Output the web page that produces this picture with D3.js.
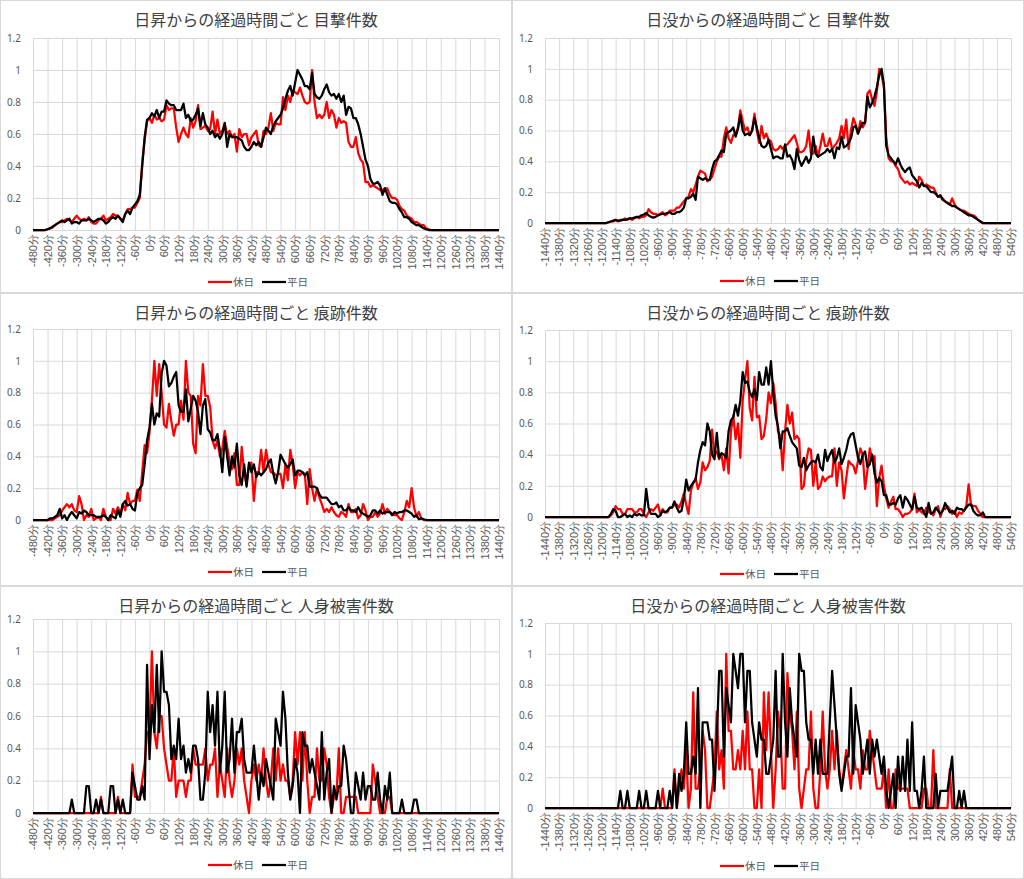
<!DOCTYPE html>
<html>
<head>
<meta charset="utf-8">
<script src="https://cdn.jsdelivr.net/npm/d3@7"></script>
<style>
  body { margin: 0; background: #fff; }
  svg { display: block; font-family: "Noto Sans CJK JP", "Noto Sans", sans-serif; }
</style>
</head>
<body>
<script>
// categories: minutes from sunrise / sunset, one point every 10 minutes
var sunriseMinutes = d3.range(-480, 1441, 10);
var sunsetMinutes = d3.range(-1440, 541, 10);
var sunriseTicks = d3.range(-480, 1441, 60);
var sunsetTicks = d3.range(-1440, 541, 60);
var yTicks = [0, 0.2, 0.4, 0.6, 0.8, 1, 1.2];
var seriesNames = ["休日", "平日"];

// 日昇 目撃件数 (one row = one hour)
var sunriseSightHoliday = [
  0,0,0,0,0,0,
  0.005,0.01,0.015,0.03,0.04,0.05,
  0.05,0.06,0.07,0.06,0.05,0.07,
  0.09,0.07,0.06,0.07,0.06,0.08,
  0.05,0.04,0.04,0.06,0.07,0.09,
  0.06,0.07,0.08,0.1,0.09,0.09,
  0.07,0.06,0.1,0.13,0.13,0.14,
  0.14,0.17,0.2,0.42,0.56,0.68,
  0.7,0.67,0.72,0.69,0.7,0.68,
  0.69,0.78,0.75,0.76,0.76,0.64,
  0.55,0.6,0.64,0.6,0.58,0.7,
  0.64,0.68,0.78,0.63,0.64,0.65,
  0.62,0.63,0.74,0.6,0.69,0.6,
  0.62,0.66,0.6,0.62,0.58,0.6,
  0.49,0.63,0.58,0.6,0.6,0.53,
  0.58,0.6,0.62,0.53,0.52,0.62,
  0.6,0.64,0.73,0.62,0.67,0.66,
  0.66,0.83,0.75,0.84,0.8,0.87,
  0.86,0.85,0.89,0.84,0.8,0.79,
  0.8,1.0,0.8,0.7,0.72,0.7,
  0.72,0.8,0.7,0.75,0.72,0.64,
  0.7,0.67,0.68,0.67,0.55,0.52,
  0.52,0.58,0.48,0.44,0.42,0.3,
  0.3,0.27,0.28,0.27,0.26,0.25,
  0.25,0.26,0.26,0.22,0.2,0.2,
  0.19,0.15,0.13,0.12,0.09,0.08,
  0.07,0.05,0.05,0.04,0.03,0.03,
  0.01,0.005,0,0,0,0,
  0,0,0,0,0,0,
  0,0,0,0,0,0,
  0,0,0,0,0,0,
  0,0,0,0,0,0,
  0
];
var sunriseSightWeekday = [
  0,0,0,0,0,0,
  0.005,0.01,0.02,0.03,0.04,0.05,
  0.06,0.05,0.06,0.07,0.04,0.05,
  0.05,0.04,0.06,0.06,0.06,0.07,
  0.06,0.05,0.06,0.07,0.07,0.06,
  0.04,0.05,0.07,0.08,0.07,0.09,
  0.07,0.05,0.1,0.12,0.1,0.14,
  0.16,0.18,0.22,0.4,0.58,0.69,
  0.7,0.73,0.71,0.75,0.7,0.74,
  0.74,0.81,0.79,0.78,0.78,0.75,
  0.75,0.75,0.79,0.7,0.72,0.68,
  0.69,0.72,0.76,0.65,0.73,0.66,
  0.64,0.6,0.62,0.58,0.6,0.57,
  0.6,0.67,0.52,0.6,0.58,0.58,
  0.58,0.57,0.56,0.52,0.5,0.5,
  0.52,0.55,0.53,0.55,0.52,0.58,
  0.64,0.62,0.6,0.65,0.68,0.7,
  0.72,0.76,0.82,0.87,0.9,0.84,
  0.92,1.0,0.97,0.94,0.9,0.9,
  0.88,0.98,0.85,0.83,0.82,0.84,
  0.88,0.91,0.86,0.84,0.85,0.82,
  0.85,0.8,0.84,0.72,0.77,0.76,
  0.7,0.7,0.66,0.6,0.52,0.44,
  0.4,0.32,0.29,0.29,0.3,0.28,
  0.22,0.26,0.22,0.18,0.17,0.17,
  0.16,0.13,0.11,0.08,0.08,0.07,
  0.05,0.04,0.03,0.03,0.02,0.01,
  0.005,0,0,0,0,0,
  0,0,0,0,0,0,
  0,0,0,0,0,0,
  0,0,0,0,0,0,
  0,0,0,0,0,0,
  0
];

// 日没 目撃件数
var sunsetSightHoliday = [
  0,0,0,0,0,0,
  0,0,0,0,0,0,
  0,0,0,0,0,0,
  0,0,0,0,0,0,
  0,0,0,0.005,0.01,0.01,
  0.02,0.01,0.02,0.02,0.03,0.02,
  0.03,0.02,0.03,0.04,0.03,0.04,
  0.04,0.05,0.09,0.07,0.06,0.06,
  0.05,0.06,0.07,0.05,0.06,0.08,
  0.08,0.08,0.1,0.1,0.12,0.14,
  0.16,0.17,0.22,0.2,0.25,0.3,
  0.34,0.33,0.32,0.27,0.28,0.3,
  0.35,0.4,0.43,0.43,0.55,0.62,
  0.55,0.52,0.57,0.58,0.62,0.73,
  0.66,0.6,0.62,0.57,0.6,0.71,
  0.6,0.52,0.63,0.55,0.58,0.54,
  0.53,0.48,0.47,0.48,0.5,0.48,
  0.5,0.51,0.53,0.55,0.57,0.52,
  0.46,0.46,0.47,0.5,0.6,0.45,
  0.45,0.5,0.43,0.5,0.58,0.5,
  0.5,0.55,0.48,0.5,0.52,0.55,
  0.63,0.55,0.67,0.48,0.6,0.68,
  0.64,0.58,0.66,0.62,0.65,0.84,
  0.86,0.8,0.76,0.85,1.0,0.96,
  0.88,0.55,0.42,0.4,0.4,0.37,
  0.35,0.3,0.28,0.26,0.27,0.25,
  0.26,0.25,0.24,0.3,0.28,0.24,
  0.25,0.24,0.23,0.23,0.2,0.17,
  0.17,0.16,0.14,0.13,0.12,0.16,
  0.12,0.1,0.09,0.08,0.08,0.07,
  0.06,0.05,0.05,0.04,0.02,0.01,
  0,0,0,0,0,0,
  0,0,0,0,0,0,
  0
];
var sunsetSightWeekday = [
  0,0,0,0,0,0,
  0,0,0,0,0,0,
  0,0,0,0,0,0,
  0,0,0,0,0,0,
  0,0,0,0.005,0.01,0.015,
  0.02,0.015,0.015,0.02,0.02,0.025,
  0.03,0.03,0.035,0.04,0.04,0.05,
  0.055,0.065,0.05,0.04,0.035,0.04,
  0.05,0.055,0.06,0.06,0.065,0.07,
  0.06,0.06,0.07,0.07,0.08,0.1,
  0.16,0.16,0.17,0.19,0.15,0.3,
  0.29,0.28,0.29,0.28,0.28,0.35,
  0.4,0.41,0.44,0.47,0.46,0.58,
  0.59,0.6,0.62,0.56,0.61,0.7,
  0.6,0.57,0.58,0.57,0.6,0.68,
  0.62,0.55,0.5,0.49,0.5,0.54,
  0.48,0.42,0.43,0.43,0.42,0.42,
  0.51,0.43,0.44,0.41,0.35,0.48,
  0.41,0.37,0.4,0.43,0.39,0.42,
  0.56,0.45,0.43,0.44,0.45,0.46,
  0.48,0.46,0.48,0.42,0.49,0.48,
  0.56,0.49,0.5,0.52,0.55,0.62,
  0.63,0.58,0.62,0.65,0.65,0.82,
  0.75,0.78,0.82,0.88,0.96,1.0,
  0.9,0.5,0.44,0.42,0.4,0.38,
  0.42,0.38,0.35,0.33,0.35,0.36,
  0.31,0.29,0.27,0.23,0.26,0.24,
  0.24,0.22,0.2,0.2,0.19,0.17,
  0.18,0.15,0.14,0.13,0.12,0.11,
  0.11,0.1,0.09,0.08,0.07,0.06,
  0.05,0.05,0.04,0.03,0.02,0.01,
  0,0,0,0,0,0,
  0,0,0,0,0,0,
  0
];

// 日昇 痕跡件数
var sunriseTraceHoliday = [
  0,0,0,0,0,0,
  0,0,0,0.01,0.02,0.03,
  0.06,0.08,0.1,0.08,0.1,0.06,
  0.05,0.15,0.1,0,0.03,0.02,
  0.07,0,0.01,0.02,0,0.07,
  0.02,0,0,0.07,0.04,0.08,
  0.04,0.1,0.06,0.17,0.1,0.12,
  0.12,0.19,0.12,0.3,0.47,0.42,
  0.55,0.75,1.0,0.78,0.98,0.8,
  0.6,0.58,0.73,0.62,0.53,0.6,
  0.6,0.75,0.63,1.0,0.8,0.78,
  0.48,0.42,0.78,0.72,0.98,0.78,
  0.78,0.71,0.5,0.45,0.5,0.4,
  0.45,0.56,0.46,0.37,0.32,0.42,
  0.22,0.22,0.46,0.3,0.22,0.35,
  0.36,0.12,0.3,0.3,0.44,0.3,
  0.44,0.35,0.3,0.3,0.28,0.29,
  0.29,0.2,0.35,0.25,0.44,0.35,
  0.2,0.3,0.28,0.3,0.29,0.1,
  0.32,0.2,0.12,0.2,0.14,0.1,
  0.05,0.07,0.05,0.08,0.05,0.03,
  0.02,0.05,0.04,0.02,0.1,0.05,
  0.05,0.07,0.01,0.03,0.1,0.06,
  0,0.02,0.02,0.05,0.02,0.04,
  0.1,0.04,0.07,0.05,0.04,0.03,
  0.03,0.01,0,0.05,0.12,0.08,
  0.2,0.08,0.02,0.05,0.01,0,
  0,0,0,0,0,0,
  0,0,0,0,0,0,
  0,0,0,0,0,0,
  0,0,0,0,0,0,
  0,0,0,0,0,0,
  0
];
var sunriseTraceWeekday = [
  0,0,0,0,0,0,
  0,0.01,0.01,0.02,0.03,0.07,
  0.01,0.03,0,0.03,0.05,0.03,
  0.01,0.05,0.04,0.06,0.05,0.03,
  0.03,0.03,0.02,0.02,0.02,0.03,
  0.02,0,0.03,0.02,0.01,0.06,
  0.02,0.1,0.12,0.09,0.1,0.07,
  0.06,0.17,0.2,0.22,0.35,0.5,
  0.58,0.73,0.6,0.67,0.65,0.92,
  1.0,0.97,0.84,0.86,0.9,0.93,
  0.72,0.68,0.68,0.82,0.62,0.7,
  0.78,0.75,0.68,0.54,0.72,0.76,
  0.57,0.55,0.5,0.5,0.54,0.44,
  0.3,0.52,0.4,0.28,0.4,0.33,
  0.48,0.28,0.22,0.35,0.21,0.36,
  0.3,0.35,0.27,0.3,0.28,0.3,
  0.32,0.36,0.38,0.29,0.23,0.3,
  0.41,0.38,0.35,0.33,0.35,0.38,
  0.28,0.31,0.31,0.3,0.28,0.3,
  0.21,0.21,0.21,0.2,0.16,0.14,
  0.14,0.14,0.12,0.1,0.1,0.11,
  0.08,0.09,0.06,0.06,0.08,0.06,
  0.06,0.05,0.08,0.05,0.04,0.03,
  0.02,0.03,0.06,0.06,0.04,0.06,
  0.04,0.05,0.05,0.05,0.03,0.05,
  0.04,0.05,0.05,0.06,0.06,0.05,
  0.04,0.02,0.03,0.005,0.01,0.005,
  0,0,0,0,0,0,
  0,0,0,0,0,0,
  0,0,0,0,0,0,
  0,0,0,0,0,0,
  0,0,0,0,0,0,
  0
];

// 日没 痕跡件数
var sunsetTraceHoliday = [
  0,0,0,0,0,0,
  0,0,0,0,0,0,
  0,0,0,0,0,0,
  0,0,0,0,0,0,
  0,0,0,0,0.01,0.03,
  0.07,0.05,0.05,0.02,0.02,0.05,
  0.05,0.05,0.03,0.03,0.05,0.05,
  0.02,0,0.03,0.05,0.04,0.06,
  0.08,0.02,0.05,0.03,0.03,0.06,
  0.06,0.08,0.08,0.06,0.1,0.15,
  0.08,0.02,0.17,0.22,0.25,0.18,
  0.22,0.35,0.3,0.32,0.36,0.56,
  0.4,0.42,0.37,0.4,0.3,0.44,
  0.28,0.55,0.65,0.5,0.6,0.38,
  0.75,0.88,1.0,0.7,0.62,0.9,
  0.64,0.65,0.5,0.52,0.63,0.8,
  0.73,0.86,0.73,0.55,0.52,0.3,
  0.55,0.72,0.6,0.67,0.5,0.52,
  0.5,0.18,0.2,0.36,0.44,0.43,
  0.2,0.35,0.18,0.2,0.26,0.23,
  0.25,0.26,0.26,0.44,0.2,0.35,
  0.3,0.12,0.25,0.36,0.34,0.33,
  0.28,0.36,0.44,0.4,0.18,0.3,
  0.44,0.37,0.39,0.07,0.25,0.33,
  0.2,0.12,0.06,0.1,0.13,0.05,
  0.05,0.03,0,0.02,0.02,0.03,
  0.05,0.15,0.03,0.05,0.03,0.02,
  0.06,0.03,0.03,0.01,0.05,0.07,
  0,0.05,0.05,0.07,0.05,0.02,
  0.04,0,0.03,0.02,0.04,0.07,
  0.21,0.08,0.07,0.07,0.04,0.02,
  0,0,0,0,0,0,
  0,0,0,0,0,0,
  0
];
var sunsetTraceWeekday = [
  0,0,0,0,0,0,
  0,0,0,0,0,0,
  0,0,0,0,0,0,
  0,0,0,0,0,0,
  0,0,0,0,0.02,0.05,
  0.04,0,0,0.01,0.02,0,
  0.01,0,0.02,0.01,0.02,0.01,
  0.01,0.18,0.06,0.02,0.02,0.02,
  0,0.01,0.04,0.03,0.04,0.06,
  0.06,0.1,0.06,0.03,0.04,0.12,
  0.24,0.17,0.2,0.22,0.24,0.35,
  0.43,0.48,0.46,0.6,0.55,0.4,
  0.37,0.54,0.38,0.41,0.4,0.38,
  0.55,0.62,0.64,0.72,0.65,0.75,
  0.93,0.86,0.87,0.8,0.77,0.82,
  0.75,0.93,0.85,0.85,0.96,0.85,
  1.0,0.8,0.65,0.58,0.44,0.55,
  0.55,0.57,0.52,0.48,0.46,0.44,
  0.33,0.32,0.38,0.3,0.33,0.35,
  0.36,0.35,0.4,0.32,0.3,0.43,
  0.36,0.4,0.43,0.35,0.38,0.44,
  0.34,0.38,0.43,0.5,0.53,0.54,
  0.46,0.38,0.34,0.4,0.42,0.32,
  0.34,0.4,0.28,0.22,0.25,0.23,
  0.14,0.14,0.08,0.08,0.09,0.08,
  0.12,0.14,0.06,0.13,0.11,0.08,
  0.05,0.13,0.06,0.05,0.06,0.03,
  0,0.09,0.02,0.03,0.06,0.04,
  0.02,0.04,0.09,0.06,0.03,0.04,
  0.02,0.06,0.05,0.05,0.04,0.06,
  0.08,0.08,0.04,0.02,0.01,0.01,
  0.03,0,0,0,0,0,
  0,0,0,0,0,0,
  0
];

// 日昇 人身被害件数
var sunriseInjuryHoliday = [
  0,0,0,0,0,0,
  0,0,0,0,0,0,
  0,0,0,0,0,0,
  0,0,0,0,0,0,
  0,0,0,0,0.1,0,
  0,0,0,0,0,0.1,
  0,0,0,0,0,0.3,
  0.1,0.1,0.1,0.2,0.3,0.5,
  0.5,1.0,0.5,0.4,0.6,0.6,
  0.4,0.3,0.2,0.2,0.4,0.1,
  0.2,0.2,0.2,0.1,0.2,0.2,
  0.4,0.3,0.3,0.3,0.3,0.4,
  0.2,0.3,0.3,0.4,0.1,0.3,
  0.2,0.1,0.4,0.2,0.1,0.2,
  0.4,0.3,0.4,0.2,0.1,0,
  0.2,0.3,0.2,0.3,0.2,0.4,
  0.2,0.1,0.2,0.4,0.2,0.4,
  0.2,0.3,0.2,0.2,0.1,0.2,
  0.5,0.3,0.5,0.2,0.5,0.2,
  0,0.1,0.1,0.4,0.2,0.2,
  0.4,0.3,0.1,0,0.1,0.1,
  0.4,0,0,0.1,0.1,0.1,
  0.1,0.1,0,0,0,0,
  0,0,0.3,0.2,0.1,0,
  0,0,0.1,0.1,0,0,
  0,0,0,0,0,0,
  0,0,0,0,0,0,
  0,0,0,0,0,0,
  0,0,0,0,0,0,
  0,0,0,0,0,0,
  0,0,0,0,0,0,
  0,0,0,0,0,0,
  0
];
var sunriseInjuryWeekday = [
  0,0,0,0,0,0,
  0,0,0,0,0,0,
  0,0,0,0,0.083,0,
  0,0,0,0,0.167,0.167,
  0,0,0.083,0,0.083,0,
  0,0,0.167,0.167,0,0.083,
  0,0.083,0,0,0,0.25,
  0.167,0.083,0.083,0.167,0.083,0.917,
  0.333,0.667,0.5,0.917,0.5,1.0,
  0.75,0.75,0.667,0.333,0.417,0.333,
  0.583,0.333,0.417,0.25,0.333,0.25,
  0.417,0.417,0.333,0.083,0.083,0.25,
  0.75,0.5,0.667,0.417,0.75,0.25,
  0.417,0.75,0.25,0.333,0.583,0.25,
  0.5,0.5,0.583,0.333,0.25,0.25,
  0.25,0.417,0.25,0.083,0.25,0.167,
  0.333,0.25,0.167,0.083,0.583,0.5,
  0.417,0.75,0.583,0.25,0.083,0.167,
  0.333,0.25,0,0.5,0.417,0.417,
  0.25,0.333,0.25,0.167,0.083,0.5,
  0.083,0.25,0.333,0,0.167,0.083,
  0.167,0.167,0.417,0.333,0.167,0,
  0,0.25,0.167,0.083,0.25,0.083,
  0.167,0.167,0.083,0.083,0.25,0.083,
  0,0.167,0.083,0.25,0,0,
  0,0,0.083,0,0,0,
  0,0.083,0.083,0,0,0,
  0,0,0,0,0,0,
  0,0,0,0,0,0,
  0,0,0,0,0,0,
  0,0,0,0,0,0,
  0,0,0,0,0,0,
  0
];

// 日没 人身被害件数
var sunsetInjuryHoliday = [
  0,0,0,0,0,0,
  0,0,0,0,0,0,
  0,0,0,0,0,0,
  0,0,0,0,0,0,
  0,0,0,0,0,0,
  0,0,0,0,0,0,
  0,0,0,0,0,0,
  0,0,0,0,0,0,
  0,0,0.125,0,0,0,
  0,0.25,0,0.125,0.25,0.125,
  0.375,0,0.125,0.75,0.125,0.125,
  0.25,0.5,0.375,0,0,0.125,
  0.25,0.625,0.25,0.375,0.125,1.0,
  0.5,0.5,0.25,0.25,0.375,0.25,
  0.5,0.25,0.625,0.25,0.25,0,
  0,0.25,0,0.75,0.375,0.75,
  0.375,0,0.25,0.625,0.5,0.125,
  0.125,0.875,0.625,0.5,0.25,0.625,
  0.125,0,0.125,0.25,0.25,0.625,
  0.125,0,0,0.25,0.625,0.25,
  0.125,0.25,0.5,0.25,0.5,0.25,
  0.125,0.25,0.375,0.25,0.125,0.375,
  0.25,0.25,0.125,0.375,0.25,0.25,
  0.5,0.375,0.25,0.125,0.125,0.125,
  0.25,0,0.25,0,0,0.25,
  0.125,0.125,0.125,0.125,0.125,0,
  0,0,0,0,0,0.125,
  0.125,0,0,0.375,0,0,
  0,0,0,0,0.25,0,
  0,0,0,0,0,0,
  0,0,0,0,0,0,
  0,0,0,0,0,0,
  0,0,0,0,0,0,
  0
];
var sunsetInjuryWeekday = [
  0,0,0,0,0,0,
  0,0,0,0,0,0,
  0,0,0,0,0,0,
  0,0,0,0,0,0,
  0,0,0,0,0,0,
  0,0,0.111,0,0,0.111,
  0,0,0,0,0.111,0,
  0,0.111,0,0,0,0,
  0.111,0,0,0,0,0.111,
  0,0.222,0,0.222,0.111,0.222,
  0.556,0.222,0.222,0.333,0.222,0.778,
  0,0.556,0.556,0.556,0.444,0.444,
  0.111,0.444,0.889,0.889,0.333,0.778,
  0.667,0.556,1.0,0.889,0.778,1.0,
  1.0,0.556,0.889,0.889,0.556,0.444,
  0.333,0.556,0.444,0.444,0.222,0.222,
  0.333,0.444,0.889,0.333,0.333,1.0,
  0.556,0.333,0.778,0.556,0.444,0.333,
  1.0,0.889,0.889,0.556,0.444,0.444,
  0.222,0.444,0.222,0.444,0.222,0.222,
  0.222,0.556,0.889,0.667,0.444,0.222,
  0.111,0.222,0.333,0.333,0.778,0.222,
  0.667,0.556,0.444,0.222,0.333,0.444,
  0.222,0.444,0.333,0.444,0.333,0.222,
  0.333,0.111,0,0.111,0.222,0,
  0.333,0.111,0.333,0.111,0.444,0.111,
  0.556,0.111,0.111,0,0.111,0.333,
  0,0,0,0,0.222,0,
  0.111,0.111,0.111,0.111,0.222,0.333,
  0,0,0.111,0,0.111,0,
  0,0,0,0,0,0,
  0,0,0,0,0,0,
  0,0,0,0,0,0,
  0
];

var panelW = 512, panelH = 293;
var colors = ["#ff0000", "#000000"];

// layout of the six charts (top / bottom = y of 1.2 and 0 inside each chart)
var panels = [
  {col: 0, row: 0, title: "日昇からの経過時間ごと 目撃件数", cats: sunriseMinutes, ticks: sunriseTicks,
   data: [sunriseSightHoliday, sunriseSightWeekday], top: 38, bottom: 230, legendY: 282},
  {col: 1, row: 0, title: "日没からの経過時間ごと 目撃件数", cats: sunsetMinutes, ticks: sunsetTicks,
   data: [sunsetSightHoliday, sunsetSightWeekday], top: 38, bottom: 223, legendY: 281},
  {col: 0, row: 1, title: "日昇からの経過時間ごと 痕跡件数", cats: sunriseMinutes, ticks: sunriseTicks,
   data: [sunriseTraceHoliday, sunriseTraceWeekday], top: 36, bottom: 227, legendY: 279},
  {col: 1, row: 1, title: "日没からの経過時間ごと 痕跡件数", cats: sunsetMinutes, ticks: sunsetTicks,
   data: [sunsetTraceHoliday, sunsetTraceWeekday], top: 37, bottom: 224, legendY: 281},
  {col: 0, row: 2, title: "日昇からの経過時間ごと 人身被害件数", cats: sunriseMinutes, ticks: sunriseTicks,
   data: [sunriseInjuryHoliday, sunriseInjuryWeekday], top: 33, bottom: 227, legendY: 279},
  {col: 1, row: 2, title: "日没からの経過時間ごと 人身被害件数", cats: sunsetMinutes, ticks: sunsetTicks,
   data: [sunsetInjuryHoliday, sunsetInjuryWeekday], top: 37, bottom: 222, legendY: 280}
];

var svg = d3.select("body").append("svg")
  .attr("width", 1024)
  .attr("height", 879);

panels.forEach(function(p) {
  var g = svg.append("g")
    .attr("transform", "translate(" + (p.col * panelW) + "," + (p.row * panelH) + ")");

  g.append("rect")
    .attr("x", 0.5).attr("y", 0.5)
    .attr("width", panelW - 1).attr("height", panelH - 1)
    .attr("fill", "#fff")
    .attr("stroke", "#d9d9d9");

  g.append("text")
    .attr("x", 256).attr("y", 26)
    .attr("text-anchor", "middle")
    .attr("font-size", "16px")
    .attr("fill", "#404040")
    .text(p.title);

  var x = d3.scaleLinear()
    .domain([p.cats[0], p.cats[p.cats.length - 1]])
    .range([33, 499]);
  var y = d3.scaleLinear().domain([0, 1.2]).range([p.bottom, p.top]);

  // horizontal gridlines + y labels
  var yAxis = g.append("g")
    .attr("transform", "translate(33,0)")
    .call(d3.axisLeft(y).tickValues(yTicks).tickSize(-(499 - 33)).tickPadding(12)
      .tickFormat(function(d) { return String(+d.toFixed(1)); }));
  yAxis.select(".domain").remove();
  yAxis.selectAll("line").attr("stroke", "#d9d9d9");
  yAxis.selectAll("text").attr("fill", "#595959").attr("font-size", "10px")
    .attr("font-family", "\"Noto Sans\", sans-serif");

  // vertical gridlines + rotated minute labels
  var xAxis = g.append("g")
    .attr("transform", "translate(0," + p.bottom + ")")
    .call(d3.axisBottom(x).tickValues(p.ticks).tickSize(-(p.bottom - p.top))
      .tickFormat(function(d) { return d + "分"; }));
  xAxis.select(".domain").remove();
  xAxis.selectAll("line").attr("stroke", "#d9d9d9");
  xAxis.selectAll("text")
    .attr("transform", "rotate(-90)")
    .attr("x", -4).attr("y", 0).attr("dy", "0.35em")
    .attr("text-anchor", "end")
    .attr("fill", "#595959")
    .attr("font-size", "11px");

  var line = d3.line()
    .x(function(d, i) { return x(p.cats[i]); })
    .y(function(d) { return y(d); });

  p.data.forEach(function(s, k) {
    g.append("path")
      .datum(s)
      .attr("d", line)
      .attr("fill", "none")
      .attr("stroke", colors[k])
      .attr("stroke-width", 2.25)
      .attr("stroke-linejoin", "round");
  });

  // legend
  var lg = g.append("g").attr("transform", "translate(0," + p.legendY + ")");
  seriesNames.forEach(function(name, k) {
    var lx = 208 + k * 54;
    lg.append("line")
      .attr("x1", lx).attr("x2", lx + 24)
      .attr("y1", 0).attr("y2", 0)
      .attr("stroke", colors[k])
      .attr("stroke-width", 2.25);
    lg.append("text")
      .attr("x", lx + 25).attr("y", 0).attr("dy", "0.35em")
      .attr("font-size", "10.5px")
      .attr("fill", "#595959")
      .text(name);
  });
});
</script>
</body>
</html>
